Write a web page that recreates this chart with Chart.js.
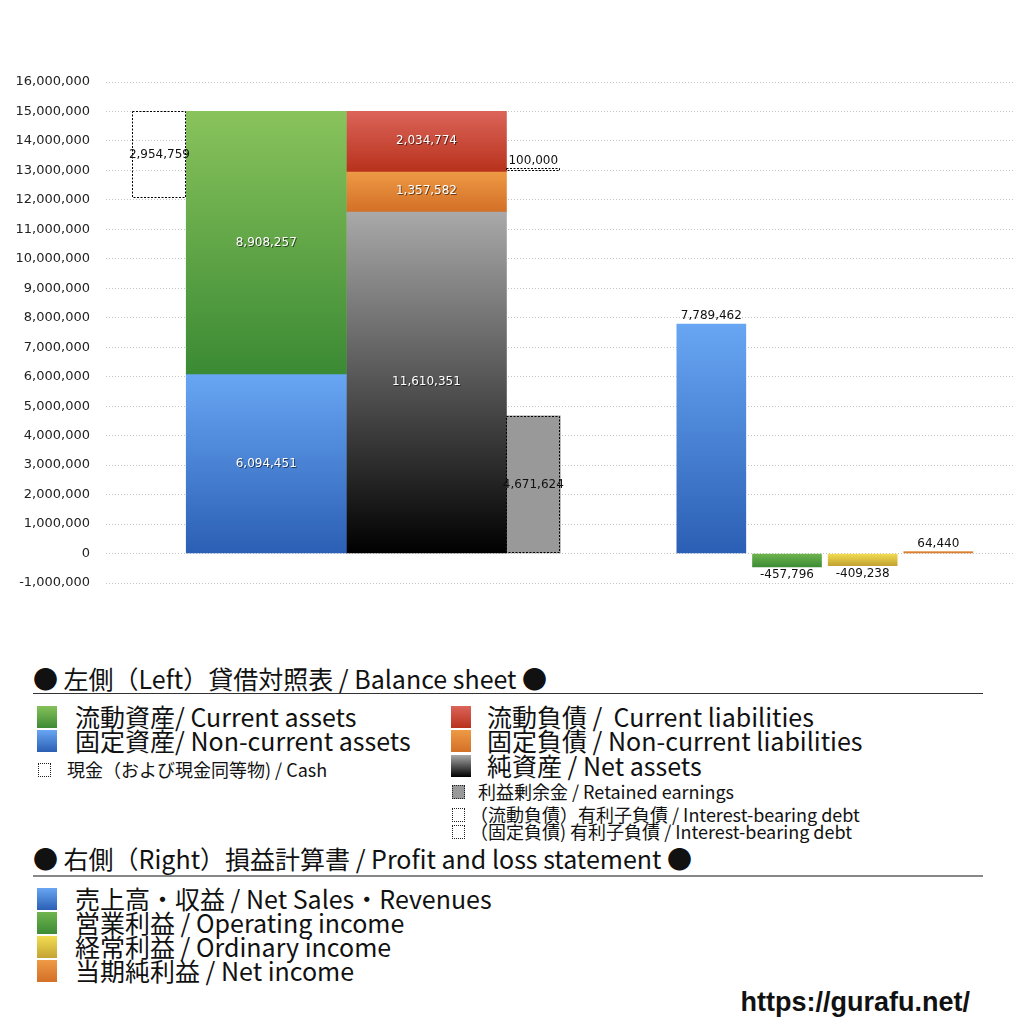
<!DOCTYPE html>
<html>
<head>
<meta charset="utf-8">
<script src="https://cdn.jsdelivr.net/npm/chart.js@4.4.1/dist/chart.umd.min.js"></script>
<style>
body { margin: 0; background: #fff; }
#page { position: relative; width: 1024px; height: 1024px; overflow: hidden; font-family: "Noto Sans CJK JP", "Noto Sans", sans-serif; color: #111; }
#chartBox { position: absolute; left: 0; top: 0; width: 1024px; height: 620px; }
.t { position: absolute; white-space: nowrap; line-height: 1; }
.big { font-size: 25px; }
.small { font-size: 18px; }
.head { font-size: 25px; }
.sq { position: absolute; width: 20px; height: 22px; }
.sqs { position: absolute; width: 13px; height: 14px; border: 1px dotted #222; box-sizing: border-box; }
.rule { position: absolute; left: 33px; width: 950px; }
</style>
</head>
<body>
<div id="page">
  <div id="chartBox"><canvas id="myChart"></canvas></div>

  <div class="t head" style="left:33px; top:666px;">● 左側（Left）貸借対照表 / Balance sheet ●</div>
  <div class="rule" style="top:693px; height:1px; background:#333;"></div>

  <div class="sq" style="left:37px; top:706px; background:linear-gradient(#86c15a,#3d8b35);"></div>
  <div class="t big" style="left:75px; top:704px;">流動資産/ Current assets</div>
  <div class="sq" style="left:37px; top:730px; background:linear-gradient(#68a6f3,#2b5fb5);"></div>
  <div class="t big" style="left:75px; top:728px;">固定資産/ Non-current assets</div>
  <div class="sqs" style="left:38px; top:763px;"></div>
  <div class="t small" style="left:67px; top:760px;">現金（および現金同等物) / Cash</div>

  <div class="sq" style="left:451px; top:706px; background:linear-gradient(#db6459,#b8321c);"></div>
  <div class="t big" style="left:487px; top:704px;">流動負債 /&nbsp; Current liabilities</div>
  <div class="sq" style="left:451px; top:730px; background:linear-gradient(#ee9a45,#d37027);"></div>
  <div class="t big" style="left:487px; top:728px;">固定負債 / Non-current liabilities</div>
  <div class="sq" style="left:451px; top:755px; background:linear-gradient(#a9a9a9,#000);"></div>
  <div class="t big" style="left:487px; top:753px;">純資産 / Net assets</div>
  <div class="sqs" style="left:452px; top:785px; background:#999;"></div>
  <div class="t small" style="left:478px; top:782px;">利益剰余金 / Retained earnings</div>
  <div class="sqs" style="left:452px; top:808px;"></div>
  <div class="t small" style="left:470px; top:805px;">（流動負債）有利子負債 / Interest-bearing debt</div>
  <div class="sqs" style="left:452px; top:825px;"></div>
  <div class="t small" style="left:470px; top:822px;">（固定負債) 有利子負債 / Interest-bearing debt</div>

  <div class="t head" style="left:33px; top:846px;">● 右側（Right）損益計算書 / Profit and loss statement ●</div>
  <div class="rule" style="top:875px; height:2px; background:#888;"></div>

  <div class="sq" style="left:37px; top:888px; background:linear-gradient(#68a6f3,#2b5fb5);"></div>
  <div class="t big" style="left:75px; top:886px;">売上高・収益 / Net Sales・Revenues</div>
  <div class="sq" style="left:37px; top:912px; background:linear-gradient(#6fb54f,#3d8b35);"></div>
  <div class="t big" style="left:75px; top:910px;">営業利益 / Operating income</div>
  <div class="sq" style="left:37px; top:936px; background:linear-gradient(#f2dd52,#c4a332);"></div>
  <div class="t big" style="left:75px; top:934px;">経常利益 / Ordinary income</div>
  <div class="sq" style="left:37px; top:960px; background:linear-gradient(#ee9a45,#d37027);"></div>
  <div class="t big" style="left:75px; top:958px;">当期純利益 / Net income</div>

  <div class="t" style="right:54px; top:989px; font-family:'Liberation Sans',sans-serif; font-weight:bold; font-size:27px;">https://gurafu.net/</div>
</div>

<script>
// 貸借対照表 (left)
var assetNames = ['流動資産', '固定資産'];
var assetValues = [8908257, 6094451];
var liabilityNames = ['流動負債', '固定負債', '純資産'];
var liabilityValues = [2034774, 1357582, 11610351];
var cashValue = 2954759;
var retainedEarnings = 4671624;
var interestDebtCurrent = 100000;

// 損益計算書 (right)
var plNames = ['売上高・収益', '営業利益', '経常利益', '当期純利益'];
var plValues = [7789462, -457796, -409238, 64440];

// y axis
var yMin = -1000000;
var yMax = 16000000;
var yStep = 1000000;

// column slots on the two hidden category axes
var leftColumns = ['現金', '資産', '負債・純資産', '利益剰余金'];
var leftSlots = [1, 3, 6, 8];
var rightSlots = [8, 9, 10, 11];

function slotLabels(count, names, slots) {
    var out = [];
    for (var i = 0; i < count; i++) out.push(' '.repeat(i + 1));
    slots.forEach(function (s, k) { out[s] = names[k]; });
    return out;
}

function grad(topColor, bottomColor) {
    return function (context) {
        var chart = context.chart;
        var raw = context.raw;
        if (!chart.chartArea || !raw) return topColor;
        var a = Array.isArray(raw.y) ? raw.y[0] : 0;
        var b = Array.isArray(raw.y) ? raw.y[1] : raw.y;
        var y = chart.scales.y;
        var p1 = y.getPixelForValue(Math.max(a, b));
        var p2 = y.getPixelForValue(Math.min(a, b));
        if (!isFinite(p1) || !isFinite(p2) || p2 - p1 < 1) return topColor;
        var g = chart.ctx.createLinearGradient(0, p1, 0, p2);
        g.addColorStop(0, topColor);
        g.addColorStop(1, bottomColor);
        return g;
    };
}

var totalAssets = assetValues[0] + assetValues[1];
var nonCurrentTop = liabilityValues[2] + liabilityValues[1];

var plColors = [
    ['#68a6f3', '#2b5fb5'],
    ['#6fb54f', '#3d8b35'],
    ['#f2dd52', '#c4a332'],
    ['#e08d3c', '#d07027']
];

var barLabels = {
    id: 'barLabels',
    afterDatasetsDraw: function (chart) {
        var ctx = chart.ctx;
        ctx.save();
        chart.data.datasets.forEach(function (ds, i) {
            if (!ds.dotted) return;
            chart.getDatasetMeta(i).data.forEach(function (bar) {
                var top = Math.min(bar.y, bar.base), bottom = Math.max(bar.y, bar.base);
                ctx.setLineDash([2, 1.5]);
                ctx.strokeStyle = '#000';
                ctx.lineWidth = 1;
                ctx.strokeRect(Math.round(bar.x - bar.width / 2) + 0.5, Math.round(top) + 0.5,
                    Math.round(bar.width) - 1, Math.max(2, Math.round(bottom - top) - 1));
            });
        });
        ctx.setLineDash([]);
        ctx.font = '12px "DejaVu Sans"';
        ctx.textAlign = 'center';
        ctx.textBaseline = 'middle';
        chart.data.datasets.forEach(function (ds, i) {
            chart.getDatasetMeta(i).data.forEach(function (bar, j) {
                var v = ds.shown[j];
                var top = Math.min(bar.y, bar.base), bottom = Math.max(bar.y, bar.base);
                var ty = (top + bottom) / 2;
                var pos = ds.labelAt;
                if (pos === 'outside') pos = v < 0 ? 'below' : 'above';
                if (pos === 'above') ty = top - 8;
                if (pos === 'below') ty = bottom + 8;
                var txt = v.toLocaleString('en-US');
                if (ds.labelColor === '#fff') {
                    ctx.fillStyle = 'rgba(0,0,0,0.55)';
                    ctx.fillText(txt, bar.x + 1, ty + 1);
                }
                ctx.fillStyle = ds.labelColor;
                ctx.fillText(txt, bar.x, ty);
            });
        });
        ctx.restore();
    }
};

document.addEventListener('DOMContentLoaded', function () {
    var ctx = document.getElementById('myChart').getContext('2d');

    var datasets = [
        {
            label: '現金', xAxisID: 'xL', barThickness: 54,
            data: [{ x: leftColumns[0], y: [totalAssets - cashValue, totalAssets] }],
            shown: [cashValue], backgroundColor: 'rgba(255,255,255,0)', dotted: true,
            labelAt: 'center', labelColor: '#111'
        },
        {
            label: assetNames[0], xAxisID: 'xL', barThickness: 160,
            data: [{ x: leftColumns[1], y: [assetValues[1], totalAssets] }],
            shown: [assetValues[0]], backgroundColor: grad('#89c35c', '#3b8a34'),
            labelAt: 'center', labelColor: '#fff'
        },
        {
            label: assetNames[1], xAxisID: 'xL', barThickness: 160,
            data: [{ x: leftColumns[1], y: [0, assetValues[1]] }],
            shown: [assetValues[1]], backgroundColor: grad('#68a6f3', '#2b5fb5'),
            labelAt: 'center', labelColor: '#fff'
        },
        {
            label: liabilityNames[0], xAxisID: 'xL', barThickness: 160,
            data: [{ x: leftColumns[2], y: [nonCurrentTop, nonCurrentTop + liabilityValues[0]] }],
            shown: [liabilityValues[0]], backgroundColor: grad('#db6459', '#b8321c'),
            labelAt: 'center', labelColor: '#fff'
        },
        {
            label: liabilityNames[1], xAxisID: 'xL', barThickness: 160,
            data: [{ x: leftColumns[2], y: [liabilityValues[2], nonCurrentTop] }],
            shown: [liabilityValues[1]], backgroundColor: grad('#ee9a45', '#d37027'),
            labelAt: 'center', labelColor: '#fff'
        },
        {
            label: liabilityNames[2], xAxisID: 'xL', barThickness: 160,
            data: [{ x: leftColumns[2], y: [0, liabilityValues[2]] }],
            shown: [liabilityValues[2]], backgroundColor: grad('#a9a9a9', '#000000'),
            labelAt: 'center', labelColor: '#fff'
        },
        {
            label: '利益剰余金', xAxisID: 'xL', barThickness: 54,
            data: [{ x: leftColumns[3], y: [0, retainedEarnings] }],
            shown: [retainedEarnings], backgroundColor: '#999999', dotted: true,
            labelAt: 'center', labelColor: '#111'
        },
        {
            label: '有利子負債', xAxisID: 'xL', barThickness: 54,
            data: [{ x: leftColumns[3], y: [nonCurrentTop, nonCurrentTop + interestDebtCurrent] }],
            shown: [interestDebtCurrent], backgroundColor: 'rgba(255,255,255,0)', dotted: true,
            labelAt: 'above', labelColor: '#111'
        },
        {
            label: '損益計算書', xAxisID: 'xR', barThickness: 69,
            data: plNames.map(function (n, k) { return { x: n, y: plValues[k] }; }),
            shown: plValues,
            backgroundColor: function (context) {
                var c = plColors[context.dataIndex] || plColors[0];
                return grad(c[0], c[1])(context);
            },
            labelAt: 'outside', labelColor: '#111'
        }
    ];

    var myChart = new Chart(ctx, {
        type: 'bar',
        data: { datasets: datasets },
        plugins: [barLabels],
        options: {
            responsive: true,
            maintainAspectRatio: false,
            animation: false,
            layout: { padding: { top: 82, right: 10, bottom: 37, left: 0 } },
            datasets: { bar: { grouped: false, borderWidth: 0 } },
            scales: {
                xL: {
                    type: 'category', labels: slotLabels(18, leftColumns, leftSlots),
                    offset: false, display: false
                },
                xR: {
                    type: 'category', labels: slotLabels(13, plNames, rightSlots),
                    offset: false, display: false
                },
                y: {
                    min: yMin,
                    max: yMax,
                    afterFit: function (scale) { scale.width = 106; },
                    ticks: {
                        stepSize: yStep,
                        padding: 16,
                        color: '#222',
                        font: { family: 'DejaVu Sans', size: 13 },
                        callback: function (v) { return v.toLocaleString('en-US'); }
                    },
                    grid: { color: '#c4c4c4', drawTicks: false },
                    border: { display: false, dash: [1, 2] }
                }
            },
            plugins: {
                legend: { display: false },
                tooltip: { enabled: false }
            }
        }
    });
});
</script>
</body>
</html>
